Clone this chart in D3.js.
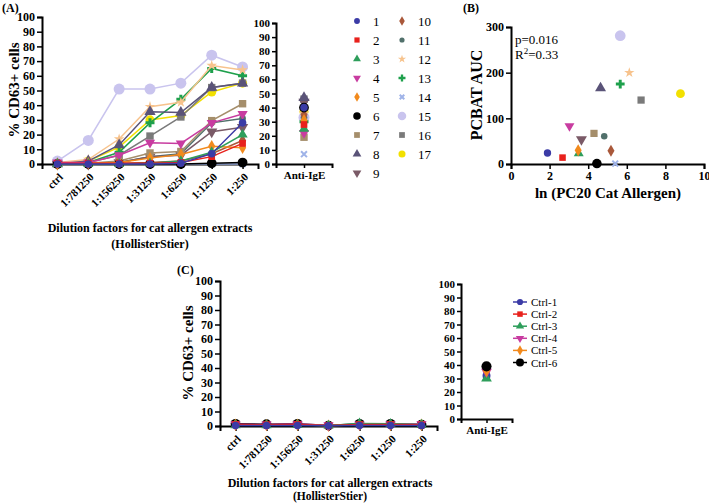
<!DOCTYPE html>
<html><head><meta charset="utf-8">
<script src="https://cdn.jsdelivr.net/npm/d3@7"></script>
<style>
body{margin:0;background:#fff;}
svg{display:block;}
text{font-family:"Liberation Serif","Times New Roman",serif;}
</style></head><body>
<svg id="chart" width="709" height="503"></svg>
<script>
// ---------- DATA ----------
const categories = ["ctrl","1:781250","1:156250","1:31250","1:6250","1:1250","1:250"];
const subjects = ["1","2","3","4","5","6","7","8","9","10","11","12","13","14","15","16","17"];
const s1  = [0,0,0,0,0.5,7,28];
const s2  = [0.5,0.5,0.5,0.5,1,5,14];
const s3  = [0,0,0,0.5,2,8,20];
const s4  = [1,1,6,14.5,14,28,34];
const s5  = [0,0.5,1,4,6.5,12,11];
const s6  = [0,0,0,0,0,0.5,1];
const s7  = [0,0.5,2,7.5,8.5,29.5,41];
const s8  = [0,2,13,35.5,35,52,55];
const s9  = [0,0,1,5,6,22,25];
const s10 = [0,0,0.5,1,2,7,16];
const s11 = [0,0.5,1,5,7,28,31];
const s12 = [1,3,17,39,42,67,64];
const s13 = [0,1,8,28,44,65,60];
const s14 = [0,0,0,0,0,0,0];
const s15 = [2,16,51,51,55,74,66];
const s16 = [0,1,6,19,32,52,55];
const s17 = [0,2,11.5,30,33,49,55];
const antiIgE_A = [40,28,25,22,31,40,19,47,44,35,33,36,30,7,33,46,37];
const lnPC20 = [1.89,2.67,3.51,3.03,3.48,4.45,4.30,4.64,3.65,5.18,4.83,6.13,5.66,5.40,5.66,6.74,8.78];
const pcbatAUC = [24,14,23,83,30,1,67,166,54,29,61,200,175,1,281,140,154];
const yTicksPct = [0,10,20,30,40,50,60,70,80,90,100];
const xTicksB = [0,2,4,6,8,10];
const yTicksB = [0,100,200,300];
const controls = ["Ctrl-1","Ctrl-2","Ctrl-3","Ctrl-4","Ctrl-5","Ctrl-6"];
const c1 = [0.3,0.3,0.3,0.2,0.3,0.3,0.3];
const c2 = [1,0.8,1,0.3,1,1,0.8];
const c3 = [0.5,0.5,0.6,0.3,1.8,1.5,1];
const c4 = [1.2,1,1.3,0.5,1,1.2,1.5];
const c5 = [0.8,0.6,0.8,0.2,0.8,0.7,0.9];
const c6 = [1.5,1.2,1.5,0.3,1.5,1.5,1];
const antiIgE_C = [32,37,30,35,36,39];

const seriesA = [s1,s2,s3,s4,s5,s6,s7,s8,s9,s10,s11,s12,s13,s14,s15,s16,s17];
const seriesC = [c1,c2,c3,c4,c5,c6];

// ---------- STYLES ----------
const colors = ["#3b3ba6","#e8211c","#2e9e5b","#c83ca0","#f28a1d","#000000","#a58e6b","#5a5378","#7a5a67","#a9583a","#51706b","#f7c38d","#1ea04c","#9fb3e8","#c9c4ee","#7a7a7a","#f2e000"];
const shapes = ["circle","square","triangle","tdown","diamond","circle","square","triangle","tdown","diamond","circle","star","cross","x","circle","square","circle"];
const sizes  = [45,45,45,45,45,75,55,55,55,45,35,35,45,35,95,55,65];
const ctrlColors = ["#3b3ba6","#e8211c","#2e9e5b","#c83ca0","#f28a1d","#000000"];
const ctrlShapes = ["circle","square","triangle","tdown","diamond","circle"];

const svg = d3.select("#chart");

function symPath(shape,size){
  if(shape==="x"){ const r=Math.sqrt(size)/2; return `M${-r},${-r}L${r},${r}M${-r},${r}L${r},${-r}`; }
  const t = {circle:d3.symbolCircle,square:d3.symbolSquare,triangle:d3.symbolTriangle,tdown:d3.symbolTriangle,diamond:d3.symbolDiamond,star:d3.symbolStar,cross:d3.symbolCross}[shape];
  return d3.symbol().type(t).size(size)();
}
function drawSym(g,x,y,shape,size,color){
  const p = g.append("path").attr("d",symPath(shape,size))
    .attr("transform",`translate(${x},${y})`+(shape==="tdown"?" rotate(180)":""));
  if(shape==="x") p.attr("fill","none").attr("stroke",color).attr("stroke-width",2);
  else p.attr("fill",color);
}
function styleAxis(g,fs){
  g.selectAll(".domain").attr("stroke","#000").attr("stroke-width",2);
  g.selectAll(".tick line").attr("stroke","#000").attr("stroke-width",1.5);
  g.selectAll("text").attr("font-family","Liberation Serif").attr("font-weight","bold").attr("font-size",fs).attr("fill","#000");
}
function label(x,y,t,fs,opts={}){
  const el = svg.append("text").attr("x",x).attr("y",y).text(t)
    .attr("font-size",fs).attr("font-weight",opts.weight||"bold")
    .attr("text-anchor",opts.anchor||"middle").attr("fill","#000")
    .attr("font-family",opts.family||"Liberation Serif");
  if(opts.rotate) el.attr("transform",`rotate(${opts.rotate},${x},${y})`);
  return el;
}

// ---------- PANEL A ----------
const xA = d3.scalePoint().domain(categories).range([42,258]).padding(0.5);
const yA = d3.scaleLinear().domain([0,100]).range([164,17]);
const gAx = svg.append("g").attr("transform","translate(42,0)").call(d3.axisLeft(yA).tickValues(yTicksPct).tickSize(5).tickPadding(2));
styleAxis(gAx,12);
const gAxx = svg.append("g").attr("transform","translate(0,164)").call(d3.axisBottom(xA).tickSize(5));
styleAxis(gAxx,11);
gAxx.selectAll("text").attr("text-anchor","end").attr("y",0).attr("dy","0.35em").attr("transform","translate(3,11) rotate(-45)");

const line = (xs,ys)=>d3.line().x((d,i)=>xs(categories[i])).y(d=>ys(d));
for(let k=seriesA.length-1;k>=0;k--){
  const g = svg.append("g");
  g.append("path").datum(seriesA[k]).attr("d",line(xA,yA)).attr("fill","none").attr("stroke",colors[k]).attr("stroke-width",1.5);
  seriesA[k].forEach((v,i)=>drawSym(g,xA(categories[i]),yA(v),shapes[k],sizes[k],colors[k]));
}
label(14,90,"% CD63+ cells",15,{rotate:-90}).attr("dominant-baseline","central");
label(150,232,"Dilution factors for cat allergen extracts",12);
label(150,248,"(HollisterStier)",12);
label(2,12,"(A)",12,{anchor:"start",family:"Liberation Sans"});

// Anti-IgE A
const xAI = d3.scalePoint().domain(["Anti-IgE"]).range([276,332]).padding(0.5);
const yAI = d3.scaleLinear().domain([0,100]).range([164,23]);
const gAIy = svg.append("g").attr("transform","translate(276,0)").call(d3.axisLeft(yAI).tickValues(yTicksPct).tickSize(4).tickPadding(2));
styleAxis(gAIy,11);
const gAIx = svg.append("g").attr("transform","translate(0,164)").call(d3.axisBottom(xAI).tickSize(4).tickPadding(3));
styleAxis(gAIx,11);
for(let k=antiIgE_A.length-1;k>=0;k--){
  drawSym(svg,xAI("Anti-IgE"),yAI(antiIgE_A[k]),shapes[k],sizes[k],colors[k]);
}

// Legend A
subjects.forEach((s,k)=>{
  const col = k<9?0:1, row = k<9?k:k-9;
  const mx = col===0?357:402, y = 21+row*19;
  drawSym(svg,mx,y,shapes[k],sizes[k]*0.6,colors[k]);
  label(mx+16,y,s,13,{anchor:"start",weight:"normal",family:col===0?"Liberation Serif":"Liberation Sans"}).attr("dominant-baseline","central");
});

// ---------- PANEL B ----------
const xB = d3.scaleLinear().domain([0,10]).range([511,704]);
const yB = d3.scaleLinear().domain([0,300]).range([164,27]);
const gBy = svg.append("g").attr("transform","translate(511,0)").call(d3.axisLeft(yB).tickValues(yTicksB).tickSize(5).tickPadding(2));
styleAxis(gBy,12);
const gBx = svg.append("g").attr("transform","translate(0,164)").call(d3.axisBottom(xB).tickValues(xTicksB).tickSize(5).tickPadding(2));
styleAxis(gBx,12);
lnPC20.forEach((v,k)=>drawSym(svg,xB(v),yB(pcbatAUC[k]),shapes[k],sizes[k]*0.95,colors[k]));
label(515,44,"p=0.016",13,{anchor:"start",weight:"normal"});
const r2 = label(515,59,"R",13,{anchor:"start",weight:"normal"});
r2.append("tspan").attr("font-size",9).attr("dy",-5).text("2");
r2.append("tspan").attr("dy",5).text("=0.33");
label(476,95,"PCBAT AUC",16,{rotate:-90}).attr("dominant-baseline","central");
label(608,198,"ln (PC20 Cat Allergen)",15);
label(463,12,"(B)",12,{anchor:"start",family:"Liberation Sans"});

// ---------- PANEL C ----------
const xC = d3.scalePoint().domain(categories).range([220,437]).padding(0.5);
const yC = d3.scaleLinear().domain([0,100]).range([426,281]);
const gCy = svg.append("g").attr("transform","translate(220,0)").call(d3.axisLeft(yC).tickValues(yTicksPct).tickSize(5).tickPadding(2));
styleAxis(gCy,12);
const gCx = svg.append("g").attr("transform","translate(0,426)").call(d3.axisBottom(xC).tickSize(5));
styleAxis(gCx,11);
gCx.selectAll("text").attr("text-anchor","end").attr("y",0).attr("dy","0.35em").attr("transform","translate(3,11) rotate(-45)");
for(let k=seriesC.length-1;k>=0;k--){
  const g = svg.append("g");
  g.append("path").datum(seriesC[k]).attr("d",line(xC,yC)).attr("fill","none").attr("stroke",ctrlColors[k]).attr("stroke-width",1.5);
  seriesC[k].forEach((v,i)=>drawSym(g,xC(categories[i]),yC(v),ctrlShapes[k],k===5?75:45,ctrlColors[k]));
}
label(188,353,"% CD63+ cells",15,{rotate:-90}).attr("dominant-baseline","central");
label(330,487,"Dilution factors for cat allergen extracts",12);
label(330,500,"(HollisterStier)",11.5);
label(177,274,"(C)",12,{anchor:"start",family:"Liberation Sans"});

// Anti-IgE C
const xCI = d3.scalePoint().domain(["Anti-IgE"]).range([461,512]).padding(0.5);
const yCI = d3.scaleLinear().domain([0,100]).range([419,284]);
const gCIy = svg.append("g").attr("transform","translate(461,0)").call(d3.axisLeft(yCI).tickValues(yTicksPct).tickSize(4).tickPadding(2));
styleAxis(gCIy,11);
const gCIx = svg.append("g").attr("transform","translate(0,419)").call(d3.axisBottom(xCI).tickSize(4).tickPadding(3));
styleAxis(gCIx,11);
antiIgE_C.forEach((v,k)=>drawSym(svg,xCI("Anti-IgE"),yCI(v),ctrlShapes[k],k===5?80:50,ctrlColors[k]));

// Legend C
controls.forEach((c,k)=>{
  const y = 302+k*12.1;
  svg.append("line").attr("x1",513).attr("x2",527).attr("y1",y).attr("y2",y).attr("stroke",ctrlColors[k]).attr("stroke-width",1.5);
  drawSym(svg,520,y,ctrlShapes[k],k===5?50:30,ctrlColors[k]);
  label(531,y+4,c,11,{anchor:"start",weight:"normal"});
});
</script></body></html>
